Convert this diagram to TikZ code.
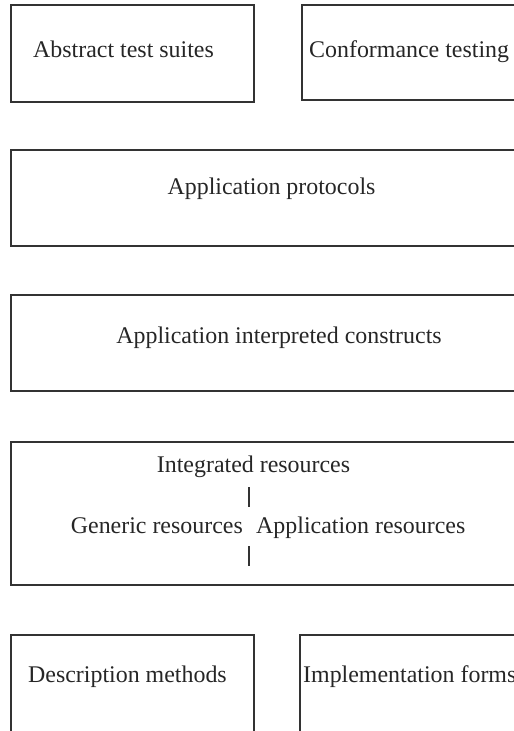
\documentclass[tikz,border=0pt]{standalone}
\usepackage{fontspec}
\setmainfont{Liberation Serif}
\begin{document}
\begin{tikzpicture}[x=1bp,y=-1bp,
  layer/.style={draw=black!80,line width=1.3bp,fill=none},
  lbl/.style={inner sep=0pt,font=\fontsize{24}{26}\selectfont,text=black!85},
  bar/.style={draw=black!80,line width=1.3bp}]
\useasboundingbox (0,0) rectangle (514,731);
\clip (0,0) rectangle (514,731);

% layer frames
\draw[layer] (11,5) rectangle (254,102);
\draw[layer] (302,5) rectangle (530,100);
\draw[layer] (11,150) rectangle (530,246);
\draw[layer] (11,295) rectangle (530,391);
\draw[layer] (11,442) rectangle (530,585);
\draw[layer] (11,635) rectangle (254,745);
\draw[layer] (300,635) rectangle (530,745);

% labels
\node[lbl,anchor=base west] (ats) at (33,58) {Abstract test suites};
\node[lbl,anchor=base west] (ct) at (309,58) {Conformance testing};
\node[lbl,anchor=base] (ap) at (271.5,194) {Application protocols};
\node[lbl,anchor=base] (aic) at (279,343) {Application interpreted constructs};
\node[lbl,anchor=base] (ir) at (253.5,472) {Integrated resources};
\node[lbl,anchor=base east] (gr) at (243,533) {Generic resources};
\node[lbl,anchor=base west] (ar) at (256,533) {Application resources};
\node[lbl,anchor=base west] (dm) at (28,682) {Description methods};
\node[lbl,anchor=base west] (if) at (303,682) {Implementation forms};

% separators inside the integrated resources layer
\coordinate (s1a) at (249,487);
\coordinate (s1b) at (249,507);
\coordinate (s2a) at (249,546);
\coordinate (s2b) at (249,566);
\draw[bar] (s1a) -- (s1b);
\draw[bar] (s2a) -- (s2b);
\end{tikzpicture}
\end{document}
